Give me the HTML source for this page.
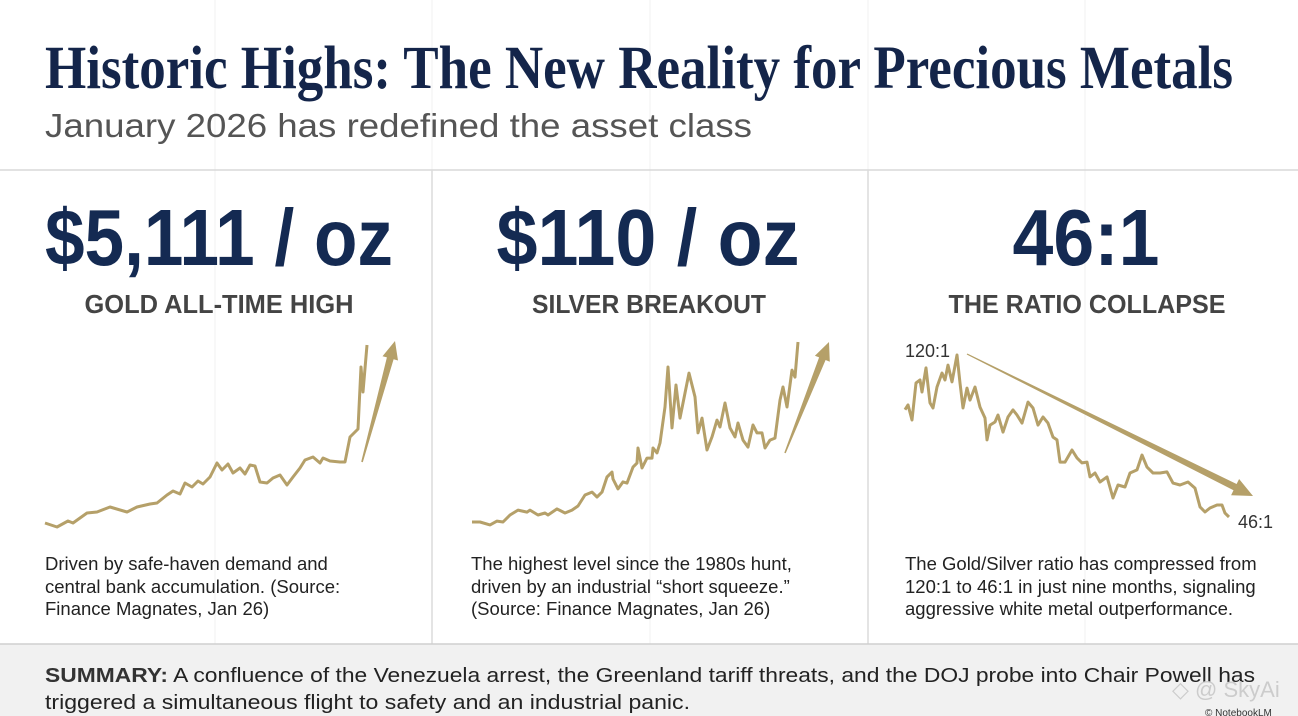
<!DOCTYPE html>
<html><head><meta charset="utf-8"><style>
html,body{margin:0;padding:0;background:#fff;}
svg{display:block;font-family:"Liberation Sans",sans-serif;}
</style></head><body>
<svg id="s" width="1298" height="716" viewBox="0 0 1298 716">
<rect x="0" y="0" width="1298" height="716" fill="#fff"/>
<g stroke="#f1f1f1" stroke-width="1">
<line x1="215" y1="0" x2="215" y2="644"/><line x1="650" y1="0" x2="650" y2="644"/><line x1="1085" y1="0" x2="1085" y2="644"/>
<line x1="432" y1="0" x2="432" y2="170"/><line x1="868" y1="0" x2="868" y2="170"/>
</g>
<text x="45" y="88" font-family="Liberation Serif,serif" font-weight="bold" font-size="61" fill="#14254a" textLength="1188" lengthAdjust="spacingAndGlyphs">Historic Highs: The New Reality for Precious Metals</text>
<text x="45" y="137" font-size="33" fill="#555" textLength="707" lengthAdjust="spacingAndGlyphs">January 2026 has redefined the asset class</text>
<line x1="0" y1="170" x2="1298" y2="170" stroke="#d8d8d8" stroke-width="1.5"/>
<line x1="432" y1="170" x2="432" y2="644" stroke="#dcdcdc" stroke-width="1.5"/>
<line x1="868" y1="170" x2="868" y2="644" stroke="#dcdcdc" stroke-width="1.5"/>

<text x="219" y="265" text-anchor="middle" font-weight="bold" font-size="80" fill="#142a52" textLength="348" lengthAdjust="spacingAndGlyphs">$5,111 / oz</text>
<text x="648" y="265" text-anchor="middle" font-weight="bold" font-size="80" fill="#142a52" textLength="303" lengthAdjust="spacingAndGlyphs">$110 / oz</text>
<text x="1086" y="265" text-anchor="middle" font-weight="bold" font-size="80" fill="#142a52" textLength="147" lengthAdjust="spacingAndGlyphs">46:1</text>

<text x="219" y="313" text-anchor="middle" font-weight="bold" font-size="26" fill="#444" textLength="269" lengthAdjust="spacingAndGlyphs">GOLD ALL-TIME HIGH</text>
<text x="649" y="313" text-anchor="middle" font-weight="bold" font-size="26" fill="#444" textLength="234" lengthAdjust="spacingAndGlyphs">SILVER BREAKOUT</text>
<text x="1087" y="313" text-anchor="middle" font-weight="bold" font-size="26" fill="#444" textLength="277" lengthAdjust="spacingAndGlyphs">THE RATIO COLLAPSE</text>

<g id="charts"></g>

<g font-size="18.5" fill="#222">
<text x="45" y="570">Driven by safe-haven demand and</text>
<text x="45" y="593">central bank accumulation. (Source:</text>
<text x="45" y="615">Finance Magnates, Jan 26)</text>
</g>
<g font-size="18.5" fill="#222">
<text x="471" y="570">The highest level since the 1980s hunt,</text>
<text x="471" y="593">driven by an industrial “short squeeze.”</text>
<text x="471" y="615">(Source: Finance Magnates, Jan 26)</text>
</g>
<g font-size="18.5" fill="#222">
<text x="905" y="570">The Gold/Silver ratio has compressed from</text>
<text x="905" y="593">120:1 to 46:1 in just nine months, signaling</text>
<text x="905" y="615">aggressive white metal outperformance.</text>
</g>

<rect x="0" y="644" width="1298" height="72" fill="#f1f1f1"/>
<line x1="0" y1="644" x2="1298" y2="644" stroke="#cfcfcf" stroke-width="1.5"/>
<text x="45" y="682" font-size="20.5" fill="#222" textLength="1210" lengthAdjust="spacingAndGlyphs"><tspan font-weight="bold" fill="#333">SUMMARY:</tspan> A confluence of the Venezuela arrest, the Greenland tariff threats, and the DOJ probe into Chair Powell has</text>
<text x="45" y="709" font-size="20.5" fill="#222" textLength="645" lengthAdjust="spacingAndGlyphs">triggered a simultaneous flight to safety and an industrial panic.</text>
<text x="1172" y="697" font-size="22" fill="#ccc">◇ @ SkyAi</text>
<text x="1205" y="716" font-size="10" fill="#333">© NotebookLM</text>
</svg>
<script>
// Gold (USD/oz), time index in weeks
const goldT = [0,12,23,28,42,52,65,82,92,105,112,122,128,135,140,147,153,158,165,172,177,183,188,195,200,205,210,215,222,228,235,242,248,255,260,268,275,278,285,295,300,305,310,313,316,318,322];
const goldV = [1800,1726,1837,1800,1986,2005,2098,2005,2098,2153,2172,2321,2395,2339,2544,2470,2581,2525,2656,2916,2786,2898,2730,2823,2711,2879,2860,2563,2544,2637,2693,2507,2656,2823,2972,3028,2916,3009,2953,2935,2935,3400,3493,3548,4702,4237,5111];
// Silver (USD/oz)
const silverT = [0,8,18,25,31,38,46,55,58,66,73,76,85,93,100,106,113,120,125,130,135,140,141,146,151,155,161,165,166,170,175,180,181,185,188,193,196,200,204,208,213,217,223,226,230,235,240,245,248,253,258,263,266,271,276,281,285,290,293,298,303,308,311,315,320,323,326];
const silverV = [30,30,28.7,30.4,30,33.1,35.3,34.4,35.3,33.1,34,33.1,35.8,34,35.3,37.1,42,43.3,41.1,43.3,50,52.2,49.1,44.7,47.8,47.3,54.4,56.2,62.9,54,58.4,58.4,62.9,60.7,65.1,81.1,98.9,71.8,90.9,76.2,87.3,96.2,85.6,69.6,76.2,62,67.8,75.3,72.2,82.9,71.8,67.8,74,66.4,63.3,73.1,69.6,69.6,62.9,66.4,67.3,84.2,90,81.1,97.5,94.4,110];
// Gold/Silver ratio
const ratioT = [0,3,7,11,15,17,21,25,28,32,37,40,43,47,52,55,58,62,65,70,75,80,82,85,90,93,98,103,108,112,117,123,128,133,138,143,148,152,155,160,167,172,177,182,185,190,195,202,208,213,220,225,232,237,242,248,255,262,268,275,283,290,295,300,305,312,317,320,324];
const ratioV = [95,97.2,90.3,107.2,108.6,103.1,114.1,98.1,95.8,105.4,111.8,108.6,115.4,107.7,120,107.2,95.8,104.9,99.4,105.4,96.2,91.2,81.2,88,89.4,92.6,84.8,91.7,94.9,92.6,88.9,98.5,95.8,88,91.7,88.9,82.5,81.2,71.1,71.1,76.6,73,70.7,71.1,64.3,66.1,62,64.3,54.7,60.6,59.7,66.1,67.5,74.3,68.8,66.1,66.1,66.6,61.5,60.6,62,59.2,50.6,48.3,50.1,51.5,51.5,47.8,46];

const NS = "http://www.w3.org/2000/svg";
const g = document.getElementById('charts');
const COLOR = "#b5a069";
function scale(d0,d1,r0,r1){return v=>r0+(v-d0)/(d1-d0)*(r1-r0);}
function drawLine(T,V,xr,yr,vd,name){
  const x = scale(Math.min(...T),Math.max(...T),xr[0],xr[1]);
  const y = scale(vd[0],vd[1],yr[0],yr[1]);
  const p = document.createElementNS(NS,'polyline');
  p.setAttribute('points',T.map((t,i)=>x(t).toFixed(1)+','+y(V[i]).toFixed(1)).join(' '));
  p.setAttribute('fill','none');p.setAttribute('stroke',COLOR);p.setAttribute('stroke-width','3');
  p.setAttribute('stroke-linejoin','round');
  
  
  g.appendChild(p);
}
function arrow(x1,y1,x2,y2,w0,w1,hw,hl,name){
  const dx=x2-x1,dy=y2-y1,L=Math.hypot(dx,dy),ux=dx/L,uy=dy/L,nx=-uy,ny=ux;
  const bx=x2-ux*hl,by=y2-uy*hl;
  const pts=[[x1+nx*w0,y1+ny*w0],[bx+nx*w1,by+ny*w1],[bx+nx*hw,by+ny*hw],[x2,y2],[bx-nx*hw,by-ny*hw],[bx-nx*w1,by-ny*w1],[x1-nx*w0,y1-ny*w0]];
  const p=document.createElementNS(NS,'polygon');
  p.setAttribute('points',pts.map(q=>q[0].toFixed(1)+','+q[1].toFixed(1)).join(' '));
  p.setAttribute('fill',COLOR);
  
  
  g.appendChild(p);
}
drawLine(goldT,goldV,[45,367],[523,345],[1800,5111],'gold-price-line');
arrow(362,462,395,341,0.8,3.5,8,18,'gold-trend-arrow');
drawLine(silverT,silverV,[472,798],[522,342],[30,110],'silver-price-line');
arrow(785,453,829,342,0.8,3.5,8,18,'silver-trend-arrow');
drawLine(ratioT,ratioV,[905,1229],[355,517],[120,46],'ratio-line');
arrow(967,354,1253,496,0.6,3.5,9,20,'ratio-trend-arrow');
const l1=document.createElementNS(NS,'text');
l1.setAttribute('x','905');l1.setAttribute('y','357');l1.setAttribute('font-size','18');l1.setAttribute('fill','#333');
l1.textContent='120:1';


g.appendChild(l1);
const l2=document.createElementNS(NS,'text');
l2.setAttribute('x','1238');l2.setAttribute('y','528');l2.setAttribute('font-size','18');l2.setAttribute('fill','#333');
l2.textContent='46:1';


g.appendChild(l2);
</script>
</body></html>
